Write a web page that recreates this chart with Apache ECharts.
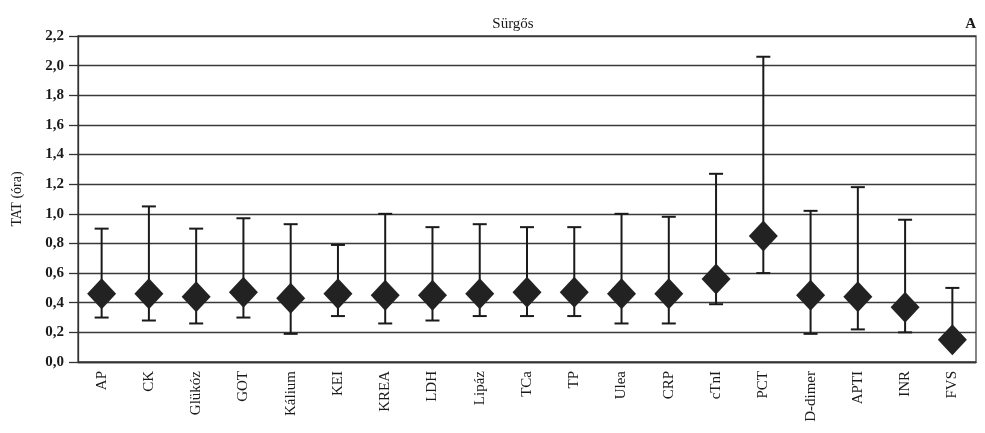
<!DOCTYPE html>
<html>
<head>
<meta charset="utf-8">
<script src="https://cdn.jsdelivr.net/npm/echarts@6/dist/echarts.min.js"></script>
<style>
html,body{margin:0;padding:0;background:#fff;}
#chart{width:985px;height:433px;}
</style>
</head>
<body>
<div id="chart"></div>
<script>
// Turnaround time (hours) per urgent test: median with min/max range
const categories = ['AP','CK','Glükóz','GOT','Kálium','KEI','KREA','LDH','Lipáz','TCa','TP','Ulea','CRP','cTnI','PCT','D-dimer','APTI','INR','FVS'];
const medians = [0.46,0.46,0.44,0.47,0.43,0.46,0.45,0.45,0.46,0.47,0.47,0.46,0.46,0.56,0.85,0.45,0.44,0.37,0.15];
const lows    = [0.30,0.28,0.26,0.30,0.19,0.31,0.26,0.28,0.31,0.31,0.31,0.26,0.26,0.39,0.60,0.19,0.22,0.20,0.14];
const highs   = [0.90,1.05,0.90,0.97,0.93,0.79,1.00,0.91,0.93,0.91,0.91,1.00,0.98,1.27,2.06,1.02,1.18,0.96,0.50];

const FONT = '"Liberation Serif", "DejaVu Serif", serif';
const INK = '#1a1a1a';

const chart = echarts.init(document.getElementById('chart'));
chart.setOption({
  animation: false,
  backgroundColor: '#fff',
  title: [
    { text: 'Sürgős', left: 508, top: 12, textAlign: 'center',
      textStyle: { fontFamily: FONT, fontSize: 15, fontWeight: 'normal', color: INK } },
    { text: 'A', right: 4, top: 12,
      textStyle: { fontFamily: FONT, fontSize: 15, fontWeight: 'bold', color: INK } }
  ],
  grid: { left: 78, right: 9, top: 36, bottom: 71, show: true, borderColor: '#444', borderWidth: 1.3 },
  xAxis: {
    type: 'category',
    data: categories,
    boundaryGap: true,
    axisLine: { lineStyle: { color: '#333', width: 1.3 } },
    axisTick: { show: false },
    axisLabel: { rotate: 90, fontFamily: FONT, fontSize: 15, color: INK, margin: 9 }
  },
  yAxis: {
    type: 'value',
    min: 0, max: 2.2, interval: 0.2,
    name: 'TAT (óra)',
    nameLocation: 'middle',
    nameGap: 54,
    nameTextStyle: { fontFamily: FONT, fontSize: 14, color: INK },
    axisLine: { show: true, lineStyle: { color: '#333', width: 1.3 } },
    axisTick: { show: true, length: 9, lineStyle: { color: '#333', width: 1.3 } },
    splitLine: { lineStyle: { color: '#3a3a3a', width: 1.3 } },
    axisLabel: {
      fontFamily: FONT, fontSize: 15, color: INK, fontWeight: 'bold', margin: 14,
      formatter: v => v.toFixed(1).replace('.', ',')
    }
  },
  series: [
    {
      type: 'custom',
      data: categories.map((c, i) => [i, lows[i], highs[i]]),
      renderItem: (params, api) => {
        const x = api.value(0);
        const lo = api.coord([x, api.value(1)]);
        const hi = api.coord([x, api.value(2)]);
        const cap = 7;
        const style = { stroke: INK, lineWidth: 2 };
        return {
          type: 'group',
          children: [
            { type: 'line', shape: { x1: lo[0], y1: lo[1], x2: hi[0], y2: hi[1] }, style },
            { type: 'line', shape: { x1: hi[0] - cap, y1: hi[1], x2: hi[0] + cap, y2: hi[1] }, style },
            { type: 'line', shape: { x1: lo[0] - cap, y1: lo[1], x2: lo[0] + cap, y2: lo[1] }, style }
          ]
        };
      },
      z: 2
    },
    {
      type: 'scatter',
      data: medians,
      symbol: 'diamond',
      symbolSize: [29, 31],
      itemStyle: { color: '#222', opacity: 1 },
      z: 3
    }
  ]
});
</script>
</body>
</html>
